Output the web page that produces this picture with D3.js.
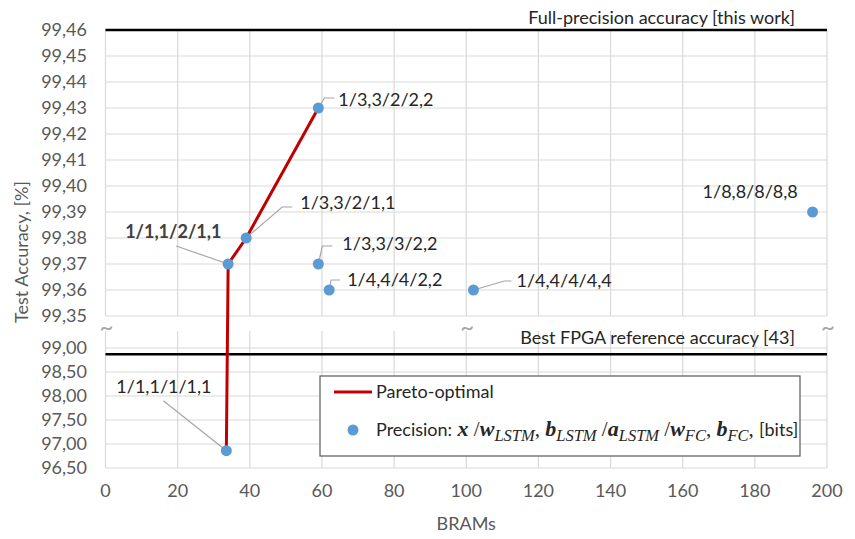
<!DOCTYPE html>
<html>
<head>
<meta charset="utf-8">
<script src="https://cdn.jsdelivr.net/npm/d3@7"></script>
<style>
  body { margin: 0; background: #fff; }
  text { font-family: Lato, "Open Sans", sans-serif; }
</style>
</head>
<body>
<div id="chart"></div>
<script>
// data
const brams = [33.5, 34, 39, 59, 59, 62, 102, 196];
const accuracy = [96.86, 99.37, 99.38, 99.43, 99.37, 99.36, 99.36, 99.39];
const configs = ["1/1,1/1/1,1", "1/1,1/2/1,1", "1/3,3/2/1,1", "1/3,3/2/2,2", "1/3,3/3/2,2", "1/4,4/4/2,2", "1/4,4/4/4,4", "1/8,8/8/8,8"];
const paretoIdx = [0, 1, 2, 3];
const fullPrecision = 99.46;
const fpgaReference = 98.87;
const xTicks = [0, 20, 40, 60, 80, 100, 120, 140, 160, 180, 200];
const yTicksTop = [99.35, 99.36, 99.37, 99.38, 99.39, 99.40, 99.41, 99.42, 99.43, 99.44, 99.45, 99.46];
const yTicksBottom = [96.5, 97.0, 97.5, 98.0, 98.5, 99.0];

// label layout: text offset from point + leader elbow (px)
const labelLayout = [
  { tx: -110, ty: -64, lead: [[-63, -50]], bold: false },
  { tx: -103, ty: -32, lead: [[-52, -18]], bold: true },
  { tx: 54, ty: -35, lead: [[36, -31], [46, -31]], bold: false },
  { tx: 20, ty: -8, lead: [[6, -10], [16, -10]], bold: false },
  { tx: 24, ty: -20, lead: [[4, -18], [14, -18]], bold: false },
  { tx: 18, ty: -10, lead: [[2, -10], [11, -10]], bold: false },
  { tx: 43, ty: -9, lead: [[31, -9], [38, -9]], bold: false },
  { tx: -110, ty: -20, lead: null, bold: false }
];

const W = 855, H = 539;
const svg = d3.select("#chart").append("svg").attr("width", W).attr("height", H);

const x = d3.scaleLinear().domain([0, 200]).range([105.5, 827]);
const yTop = d3.scaleLinear().domain([99.35, 99.46]).range([316, 30]);
const yBot = d3.scaleLinear().domain([96.5, 99.0]).range([468, 348]);
const y = v => v >= 99.2 ? yTop(v) : yBot(v);

const grid = "#d9d9d9", txt = "#595959";

// grid, upper panel
svg.append("g").selectAll("line").data(yTicksTop).join("line")
  .attr("x1", x(0)).attr("x2", x(200)).attr("y1", d => yTop(d)).attr("y2", d => yTop(d))
  .attr("stroke", grid).attr("stroke-width", 1.2);
svg.append("g").selectAll("line").data(xTicks).join("line")
  .attr("x1", d => x(d)).attr("x2", d => x(d)).attr("y1", yTop(99.46)).attr("y2", yTop(99.35))
  .attr("stroke", grid).attr("stroke-width", 1.2);
// grid, lower panel
svg.append("g").selectAll("line").data(yTicksBottom).join("line")
  .attr("x1", x(0)).attr("x2", x(200)).attr("y1", d => yBot(d)).attr("y2", d => yBot(d))
  .attr("stroke", grid).attr("stroke-width", 1.2);
svg.append("g").selectAll("line").data(xTicks).join("line")
  .attr("x1", d => x(d)).attr("x2", d => x(d)).attr("y1", 331).attr("y2", yBot(96.5))
  .attr("stroke", grid).attr("stroke-width", 1.2);

// break marks
svg.append("g").selectAll("text").data([0, 100, 200]).join("text")
  .attr("x", d => x(d) + 1).attr("y", 335).attr("text-anchor", "middle")
  .attr("font-size", 24).attr("fill", "#a6a6a6").text("~");

// tick labels
svg.append("g").selectAll("text").data(yTicksTop).join("text")
  .attr("x", 87).attr("y", d => yTop(d)).attr("dy", "0.36em").attr("text-anchor", "end")
  .attr("font-size", 18).attr("fill", txt).text(d => d3.format(".2f")(d).replace(".", ","));
svg.append("g").selectAll("text").data(yTicksBottom).join("text")
  .attr("x", 87).attr("y", d => yBot(d)).attr("dy", "0.36em").attr("text-anchor", "end")
  .attr("font-size", 18).attr("fill", txt).text(d => d3.format(".2f")(d).replace(".", ","));
svg.append("g").selectAll("text").data(xTicks).join("text")
  .attr("x", d => x(d)).attr("y", 497).attr("text-anchor", "middle")
  .attr("font-size", 18).attr("fill", txt).text(d => d);

// axis titles
svg.append("text").attr("x", x(100)).attr("y", 530).attr("text-anchor", "middle")
  .attr("font-size", 18).attr("fill", txt).text("BRAMs");
svg.append("text").attr("transform", `translate(28,252) rotate(-90)`).attr("text-anchor", "middle")
  .attr("font-size", 18).attr("fill", txt).text("Test Accuracy, [%]");

// reference lines
svg.append("line").attr("x1", x(0)).attr("x2", x(200)).attr("y1", y(fullPrecision)).attr("y2", y(fullPrecision))
  .attr("stroke", "#000").attr("stroke-width", 2.5);
svg.append("text").attr("x", 795).attr("y", 24).attr("text-anchor", "end")
  .attr("font-size", 18).attr("fill", "#262626").text("Full-precision accuracy [this work]");
svg.append("line").attr("x1", x(0)).attr("x2", x(200)).attr("y1", y(fpgaReference)).attr("y2", y(fpgaReference))
  .attr("stroke", "#000").attr("stroke-width", 2.5);
svg.append("text").attr("x", 795).attr("y", 344).attr("text-anchor", "end")
  .attr("font-size", 18).attr("fill", "#262626").text("Best FPGA reference accuracy [43]");

// pareto line
const line = d3.line().x(i => x(brams[i])).y(i => y(accuracy[i]));
svg.append("path").attr("d", line(paretoIdx)).attr("fill", "none")
  .attr("stroke", "#c00000").attr("stroke-width", 3);

// leader lines
const pts = brams.map((b, i) => ({ b, a: accuracy[i], name: configs[i], L: labelLayout[i] }));
svg.append("g").selectAll("polyline").data(pts.filter(d => d.L.lead)).join("polyline")
  .attr("points", d => {
    const px = x(d.b), py = y(d.a);
    return [[px, py]].concat(d.L.lead.map(p => [px + p[0], py + p[1]])).join(" ");
  })
  .attr("fill", "none").attr("stroke", "#a6a6a6").attr("stroke-width", 1.2);

// points
svg.append("g").selectAll("circle").data(pts).join("circle")
  .attr("cx", d => x(d.b)).attr("cy", d => y(d.a)).attr("r", 5.5).attr("fill", "#5b9bd5");

// point labels
svg.append("g").selectAll("text").data(pts).join("text")
  .attr("x", d => x(d.b) + d.L.tx).attr("y", d => y(d.a) + d.L.ty).attr("dy", "0.36em")
  .attr("font-size", 18).attr("font-weight", d => d.L.bold ? "bold" : "normal")
  .attr("fill", d => d.L.bold ? "#404040" : "#262626").text(d => d.name);

// legend
const lg = svg.append("g").attr("transform", "translate(320,376)");
lg.append("rect").attr("width", 480).attr("height", 80).attr("fill", "#fff")
  .attr("stroke", "#595959").attr("stroke-width", 1.2);
lg.append("line").attr("x1", 14).attr("x2", 52).attr("y1", 16).attr("y2", 16)
  .attr("stroke", "#c00000").attr("stroke-width", 3);
lg.append("text").attr("x", 56).attr("y", 16).attr("dy", "0.36em").attr("font-size", 18)
  .attr("fill", "#262626").text("Pareto-optimal");
lg.append("circle").attr("cx", 33).attr("cy", 54).attr("r", 5.5).attr("fill", "#5b9bd5");

const leg = lg.append("text").attr("x", 56).attr("y", 54).attr("dy", "0.36em")
  .attr("font-size", 18).attr("fill", "#262626");
const serif = "'Liberation Serif', 'DejaVu Serif', serif";
const parts = [
  ["Precision:", "sans"], [" x", "var"], [" /", "serif"], ["w", "var"], ["LSTM", "sub"], [", ", "serif"],
  ["b", "var"], ["LSTM", "sub"], [" /", "serif"], ["a", "var"], ["LSTM", "sub"], [" /", "serif"],
  ["w", "var"], ["FC", "sub"], [", ", "serif"], ["b", "var"], ["FC", "sub"], [", ", "serif"], ["[bits]", "sans"]
];
parts.forEach(([t, kind], i) => {
  const s = leg.append("tspan").text(t);
  if (kind === "var") s.attr("font-family", serif).attr("font-style", "italic").attr("font-weight", "bold").attr("font-size", 22);
  if (kind === "serif") s.attr("font-family", serif).attr("font-size", 21);
  if (kind === "sub") s.attr("font-family", serif).attr("font-style", "italic").attr("font-size", 16.5).attr("dy", 5);
  if (i > 0 && parts[i - 1][1] === "sub") s.attr("dy", -5);
});
</script>
</body>
</html>
